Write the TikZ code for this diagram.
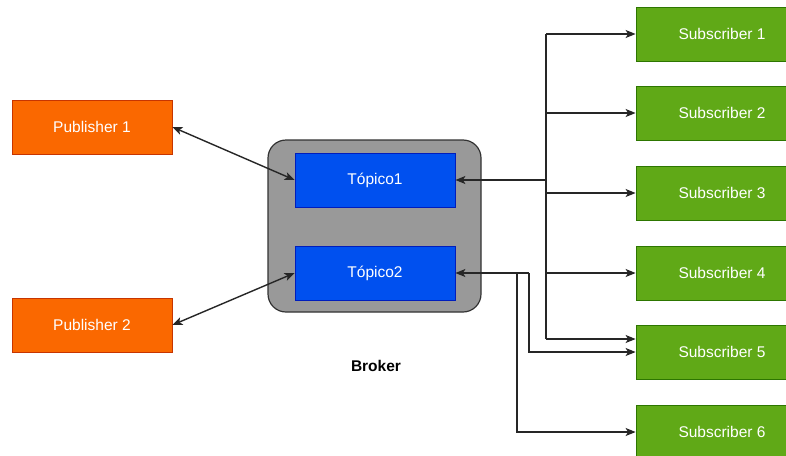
\documentclass[tikz,border=0pt]{standalone}
\usepackage{fontspec}
\setmainfont{Liberation Sans}
\usetikzlibrary{arrows.meta}
\definecolor{pubfill}{HTML}{FA6800}
\definecolor{pubdraw}{HTML}{C73500}
\definecolor{subfill}{HTML}{60A917}
\definecolor{subdraw}{HTML}{2D7600}
\definecolor{topfill}{HTML}{0050EF}
\definecolor{topdraw}{HTML}{001DBC}
\definecolor{brokfill}{HTML}{999999}
\definecolor{brokdraw}{HTML}{333333}
\tikzset{
  box/.style={rectangle, minimum width=160pt, minimum height=54pt, inner sep=0pt, text=white, font=\fontsize{15.5}{18}\selectfont, line width=0.8pt},
  pubbox/.style={box, fill=pubfill, draw=pubdraw},
  subbox/.style={box, minimum width=172pt, fill=subfill, draw=subdraw},
  topbox/.style={box, fill=topfill, draw=topdraw},
  line/.style={draw=black!85, line width=1.4pt},
  conn/.style={line, -{Stealth[length=10pt,width=8pt,inset=2.5pt]}},
  biconn/.style={line, {Stealth[length=10pt,width=8pt,inset=2.5pt]}-{Stealth[length=10pt,width=8pt,inset=2.5pt]}}
}
\begin{document}
\begin{tikzpicture}[x=1pt,y=-1pt]
\useasboundingbox (0,0) rectangle (786,455);
\clip (0,0) rectangle (786,455);
\fill[white] (0,0) rectangle (786,455);
% broker
\node[draw=brokdraw, fill=brokfill, line width=1.2pt, rounded corners=18pt, minimum width=213pt, minimum height=172pt, inner sep=0pt] (broker) at (374.5,226) {};
\node[font=\fontsize{15.5}{18}\selectfont\bfseries] (blabel) at (376,366) {Broker};
% topics
\node[topbox] (t1) at (375,180) {Tópico1};
\node[topbox] (t2) at (375,273) {Tópico2};
% publishers
\node[pubbox] (p1) at (92,127) {Publisher 1};
\node[pubbox] (p2) at (92,325) {Publisher 2};
% subscribers
\node[subbox] (s1) at (722,34) {Subscriber 1};
\node[subbox] (s2) at (722,113) {Subscriber 2};
\node[subbox] (s3) at (722,193) {Subscriber 3};
\node[subbox] (s4) at (722,273) {Subscriber 4};
\node[subbox] (s5) at (722,352) {Subscriber 5};
\node[subbox] (s6) at (722,432) {Subscriber 6};
% junctions
\coordinate (j1) at (546,180);
\coordinate (j1top) at (546,34);
\coordinate (j1bot) at (546,339);
\coordinate (j2a) at (517,273);
\coordinate (j2b) at (529,273);
% publisher links
\draw[biconn] (p1.east) -- (t1.west);
\draw[biconn] (p2.east) -- (t2.west);
% topic 1 to subscribers
\draw[conn] (j1) -- (t1.east);
\draw[line] (j1top) -- (j1bot);
\draw[conn] (j1top) -- (s1.west);
\draw[conn] (j1 |- s2.west) -- (s2.west);
\draw[conn] (j1 |- s3.west) -- (s3.west);
\draw[conn] (j1 |- s4.west) -- (s4.west);
\draw[conn] (j1bot) -- ([yshift=13pt]s5.west);
% topic 2 to subscribers
\draw[conn] (j2b) -- (t2.east);
\draw[conn] (j2b) |- (s5.west);
\draw[conn] (j2a) |- (s6.west);
\end{tikzpicture}
\end{document}
